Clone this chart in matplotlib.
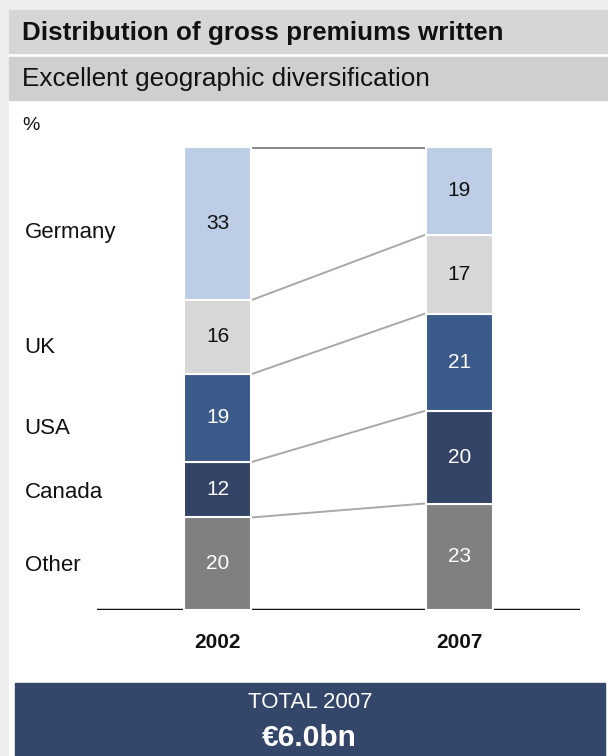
import matplotlib.pyplot as plt
from matplotlib.patches import Rectangle

plt.rcParams["font.family"] = ["Liberation Sans", "DejaVu Sans"]

# shares of gross premiums written, %
years = ["2002", "2007"]
regions = ["Other", "Canada", "USA", "UK", "Germany"]
share_2002 = [20, 12, 19, 16, 33]
share_2007 = [23, 20, 21, 17, 19]
colors = ["#808080", "#334466", "#3a5a8a", "#d7d7d7", "#bccde5"]
text_colors = ["white", "white", "white", "#111111", "#111111"]
total_2007 = "€6.0bn"

W, H = 608, 756
fig = plt.figure(figsize=(W / 100, H / 100), dpi=100)
fig.patch.set_facecolor("#eeeeee")

# background panel in pixel coordinates (y downwards)
bg = fig.add_axes([0, 0, 1, 1])
bg.set_xlim(0, W)
bg.set_ylim(H, 0)
bg.axis("off")
bg.add_patch(Rectangle((9, 10), W - 9, H - 10, color="white"))
bg.add_patch(Rectangle((9, 10), W - 9, 43, color="#d6d6d6"))
bg.add_patch(Rectangle((9, 57), W - 9, 43, color="#cfcfcf"))
bg.add_patch(Rectangle((15, 683), 590, H - 683, color="#34466a"))
bg.text(22, 33, "Distribution of gross premiums written", fontsize=18.7,
        fontweight="bold", color="#111111", va="center")
bg.text(22, 79, "Excellent geographic diversification", fontsize=18.8,
        color="#111111", va="center")
bg.text(22, 125, "%", fontsize=14, color="#111111", va="center")
bg.text(310, 703, "TOTAL 2007", fontsize=16, color="white",
        ha="center", va="center")
bg.text(309, 738, total_2007, fontsize=21.5, fontweight="bold", color="white",
        ha="center", va="center")

# bar axes: baseline at y=610px, 100% at y=147px
left_px, right_px = 97, 580
ax = fig.add_axes([left_px / W, (H - 610) / H, (right_px - left_px) / W, 463 / H])
ax.set_xlim(-0.498, 1.498)
ax.set_ylim(0, 100)
ax.axis("off")

width = 0.277
xs = [0, 1]
ax.axhline(0, color="#111111", lw=2.5, zorder=1)

bottoms = [0, 0]
tops_2002, tops_2007 = [], []
for i, region in enumerate(regions):
    vals = [share_2002[i], share_2007[i]]
    ax.bar(xs, vals, width=width, bottom=bottoms, color=colors[i],
           edgecolor="white", linewidth=1.5, zorder=2)
    for x, b, v in zip(xs, bottoms, vals):
        ax.text(x, b + v / 2, str(v), ha="center", va="center", fontsize=15,
                color=text_colors[i], zorder=3)
    bottoms = [b + v for b, v in zip(bottoms, vals)]
    tops_2002.append(bottoms[0])
    tops_2007.append(bottoms[1])

# connector lines between segment tops
for j, (t0, t1) in enumerate(zip(tops_2002, tops_2007)):
    last = j == len(regions) - 1
    ax.plot([width / 2 + 0.005, 1 - width / 2 - 0.005], [t0, t1],
            color="#8c8c8c" if last else "#a8a8a8", lw=2.2 if last else 1.4,
            zorder=1)

# region labels on the left, slightly below the 2002 segment centres
mid_2002 = []
b = 0
for v in share_2002:
    mid_2002.append(b + v / 2)
    b += v
label_offsets = [-0.3, -0.6, -2.2, -2.2, -2.0]
for region, m, off in zip(regions, mid_2002, label_offsets):
    ax.text(-0.5 + (25 - left_px) / 242, m + off, region, ha="left",
            va="center", fontsize=16, color="#111111", clip_on=False)

for x, yr in zip(xs, years):
    ax.text(x, -7, yr, ha="center", va="center", fontsize=15,
            fontweight="bold", color="#111111", clip_on=False)

fig.savefig("out.png", dpi=100)
